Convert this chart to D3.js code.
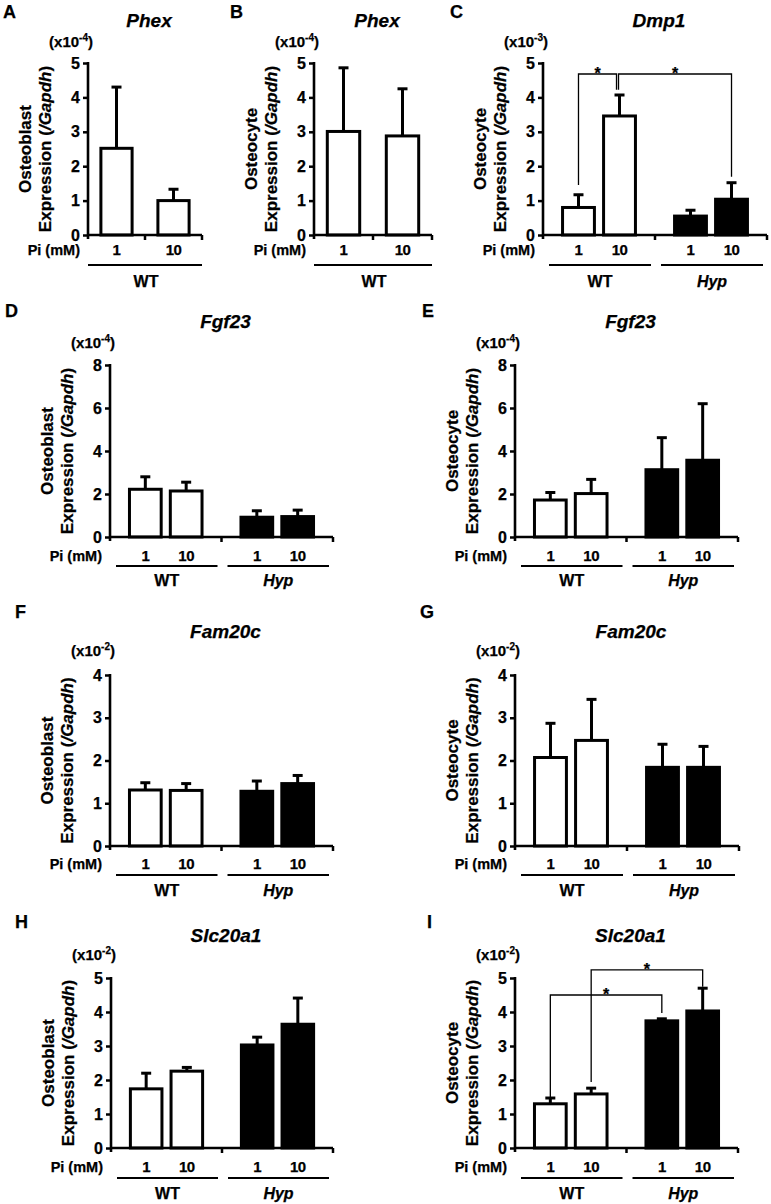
<!DOCTYPE html>
<html><head><meta charset="utf-8">
<script src="https://cdn.jsdelivr.net/npm/d3@7"></script>
<style>
body{margin:0;background:#fff}
svg text{font-family:"Liberation Sans",Arial,sans-serif;font-weight:bold;fill:#000;stroke:#000;stroke-width:0.25px}
</style>
</head><body>
<svg id="c" width="771" height="1204"></svg>
<script>
// ---------- data ----------
const conditions = ["1", "10"];
const genotypes = ["WT", "Hyp"];
const wtOnly = ["WT"];
const ticks5 = [0, 1, 2, 3, 4, 5];
const ticks8 = [0, 2, 4, 6, 8];
const ticks4 = [0, 1, 2, 3, 4];

const phexObMean = [2.52, 1.0];
const phexObUpper = [4.3, 1.33];
const phexOcMean = [3.01, 2.88];
const phexOcUpper = [4.86, 4.25];
const dmp1OcMean = [0.8, 3.46, 0.55, 1.04];
const dmp1OcUpper = [1.17, 4.07, 0.72, 1.52];
const fgf23ObMean = [2.22, 2.14, 0.92, 0.95];
const fgf23ObUpper = [2.8, 2.55, 1.22, 1.25];
const fgf23OcMean = [1.72, 2.02, 3.13, 3.57];
const fgf23OcUpper = [2.07, 2.68, 4.62, 6.2];
const fam20cObMean = [1.31, 1.3, 1.28, 1.46];
const fam20cObUpper = [1.48, 1.46, 1.52, 1.65];
const fam20cOcMean = [2.07, 2.47, 1.84, 1.84];
const fam20cOcUpper = [2.87, 3.43, 2.38, 2.33];
const slcObMean = [1.74, 2.26, 3.03, 3.64];
const slcObUpper = [2.2, 2.37, 3.26, 4.41];
const slcOcMean = [1.3, 1.59, 3.74, 4.03];
const slcOcUpper = [1.47, 1.76, 3.8, 4.7];
// brackets: [fromBar, toBar, fromValue, toValue, topValue]
const dmp1Brackets = [[0, 1, 1.45, 4.22, 4.68], [1, 3, 4.22, 1.69, 4.68]];
const slcOcBrackets = [[0, 2, 1.47, 3.97, 4.5], [1, 3, 1.94, 4.74, 5.24]];

// ---------- layout ----------
const rows = [
  {y0: 235, yTop: 63, letterY: 18, titleY: 27, expY: 47, piY: 255, lineY: 265, grpY: 287},
  {y0: 537, yTop: 365, letterY: 317, titleY: 328, expY: 348, piY: 561, lineY: 566, grpY: 586},
  {y0: 846, yTop: 675, letterY: 618, titleY: 638, expY: 656, piY: 869, lineY: 875, grpY: 896},
  {y0: 1148, yTop: 978, letterY: 928, titleY: 942, expY: 960, piY: 1172, lineY: 1178, grpY: 1199}
];

const panels = [
  {letter: "A", lx: 3, title: "Phex", cell: "Osteoblast", exp: "-4", groups: wtOnly, mean: phexObMean, upper: phexObUpper, ticks: ticks5, row: 0, xL: 88, xR: 202},
  {letter: "B", lx: 230, title: "Phex", cell: "Osteocyte", exp: "-4", groups: wtOnly, mean: phexOcMean, upper: phexOcUpper, ticks: ticks5, row: 0, xL: 314, xR: 432},
  {letter: "C", lx: 450, title: "Dmp1", cell: "Osteocyte", exp: "-3", groups: genotypes, mean: dmp1OcMean, upper: dmp1OcUpper, ticks: ticks5, row: 0, xL: 543, xR: 767, brackets: dmp1Brackets},
  {letter: "D", lx: 5, title: "Fgf23", cell: "Osteoblast", exp: "-4", groups: genotypes, mean: fgf23ObMean, upper: fgf23ObUpper, ticks: ticks8, row: 1, xL: 110, xR: 333},
  {letter: "E", lx: 422, title: "Fgf23", cell: "Osteocyte", exp: "-4", groups: genotypes, mean: fgf23OcMean, upper: fgf23OcUpper, ticks: ticks8, row: 1, xL: 515, xR: 738},
  {letter: "F", lx: 15, title: "Fam20c", cell: "Osteoblast", exp: "-2", groups: genotypes, mean: fam20cObMean, upper: fam20cObUpper, ticks: ticks4, row: 2, xL: 110, xR: 333},
  {letter: "G", lx: 420, title: "Fam20c", cell: "Osteocyte", exp: "-2", groups: genotypes, mean: fam20cOcMean, upper: fam20cOcUpper, ticks: ticks4, row: 2, xL: 515, xR: 739},
  {letter: "H", lx: 15, title: "Slc20a1", cell: "Osteoblast", exp: "-2", groups: genotypes, mean: slcObMean, upper: slcObUpper, ticks: ticks5, row: 3, xL: 111, xR: 333},
  {letter: "I", lx: 427, title: "Slc20a1", cell: "Osteocyte", exp: "-2", groups: genotypes, mean: slcOcMean, upper: slcOcUpper, ticks: ticks5, row: 3, xL: 515, xR: 738, brackets: slcOcBrackets}
];

const svg = d3.select("#c");
svg.append("rect").attr("width", 771).attr("height", 1204).attr("fill", "#fff");

panels.forEach(p => {
  const r = rows[p.row];
  const g = svg.append("g");
  const single = p.groups.length === 1;
  const ymax = p.ticks[p.ticks.length - 1];
  const y = d3.scaleLinear().domain([0, ymax]).range([r.y0, r.yTop]);
  const outer = d3.scaleBand().domain(p.groups).range([p.xL, p.xR]);
  const inner = d3.scaleBand().domain(conditions).range([0, outer.bandwidth()])
    .paddingInner(single ? 0.4 : 0.15).paddingOuter(single ? 0.2 : 0.44);

  const bars = p.mean.map((m, i) => {
    const grp = p.groups[Math.floor(i / 2)];
    const cond = conditions[i % 2];
    const x0 = outer(grp) + inner(cond);
    return {i, grp, cond, m, up: p.upper[i], x0, cx: x0 + inner.bandwidth() / 2, fill: grp === "Hyp" ? "#000" : "#fff"};
  });

  // panel letter
  g.append("text").attr("x", p.lx).attr("y", r.letterY).style("font-size", "18px").text(p.letter);
  // title
  g.append("text").attr("x", (p.xL + p.xR) / 2 + 4).attr("y", r.titleY).attr("text-anchor", "middle")
    .style("font-size", "19px").style("font-style", "italic").text(p.title);
  // exponent label
  const ex = g.append("text").attr("x", p.xL + 5).attr("y", r.expY).attr("text-anchor", "end").style("font-size", "15px");
  ex.append("tspan").text("(x10");
  ex.append("tspan").attr("dy", -6).style("font-size", "10px").text(p.exp);
  ex.append("tspan").attr("dy", 6).text(")");

  // y label
  const yc = (r.y0 + r.yTop) / 2;
  g.append("text").attr("transform", `translate(${p.xL - 57},${yc}) rotate(-90)`).attr("text-anchor", "middle")
    .style("font-size", "17px").text(p.cell);
  const l2 = g.append("text").attr("transform", `translate(${p.xL - 37},${yc}) rotate(-90)`).attr("text-anchor", "middle")
    .style("font-size", "17px");
  l2.append("tspan").text("Expression (");
  l2.append("tspan").style("font-style", "italic").text("/Gapdh");
  l2.append("tspan").text(")");

  // bars
  const bw = inner.bandwidth();
  g.selectAll("rect.bar").data(bars).join("rect")
    .attr("x", d => d.x0 + 1.5).attr("width", bw - 3)
    .attr("y", d => y(d.m)).attr("height", d => r.y0 - y(d.m))
    .attr("fill", d => d.fill).attr("stroke", "#000").attr("stroke-width", 3);
  // error bars
  g.selectAll("line.err").data(bars).join("line")
    .attr("x1", d => d.cx).attr("x2", d => d.cx).attr("y1", d => y(d.m)).attr("y2", d => y(d.up))
    .attr("stroke", "#000").attr("stroke-width", 3);
  g.selectAll("line.cap").data(bars).join("line")
    .attr("x1", d => d.cx - 5).attr("x2", d => d.cx + 5).attr("y1", d => y(d.up)).attr("y2", d => y(d.up))
    .attr("stroke", "#000").attr("stroke-width", 3);

  // y axis
  const ya = g.append("g").attr("transform", `translate(${p.xL},0)`)
    .call(d3.axisLeft(y).tickValues(p.ticks).tickSize(5).tickSizeOuter(0).tickPadding(3).tickFormat(d3.format("d")));
  ya.select(".domain").remove();
  ya.selectAll(".tick line").attr("stroke", "#000").attr("stroke-width", 2.5);
  ya.selectAll(".tick text").style("font-size", "16px").style("font-family", "'Liberation Sans',Arial,sans-serif").attr("fill", "#000");
  g.append("line").attr("x1", p.xL).attr("x2", p.xL).attr("y1", r.yTop - 1).attr("y2", r.y0 + 4)
    .attr("stroke", "#000").attr("stroke-width", 2.6);
  // x axis
  g.append("line").attr("x1", p.xL).attr("x2", p.xR).attr("y1", r.y0).attr("y2", r.y0)
    .attr("stroke", "#000").attr("stroke-width", 2.6);
  const xt = single ? [p.xL + outer.bandwidth() / 2, p.xR] : p.groups.map(gr => outer(gr) + outer.bandwidth());
  g.selectAll("line.xt").data(xt).join("line")
    .attr("x1", d => d).attr("x2", d => d).attr("y1", r.y0).attr("y2", r.y0 + 5)
    .attr("stroke", "#000").attr("stroke-width", 2.5);

  // category labels
  g.append("text").attr("x", p.xL - 8).attr("y", r.piY).attr("text-anchor", "end").style("font-size", "14.5px").text("Pi (mM)");
  g.selectAll("text.cat").data(bars).join("text")
    .attr("x", d => d.cx).attr("y", r.piY).attr("text-anchor", "middle").style("font-size", "15px")
    .style("letter-spacing", "-0.5px").text(d => d.cond);
  // group lines and labels
  p.groups.forEach(gr => {
    const a = outer(gr), b = a + outer.bandwidth();
    const x1 = single ? a : a + 6, x2 = single ? b : b - 4;
    g.append("line").attr("x1", x1).attr("x2", x2).attr("y1", r.lineY).attr("y2", r.lineY)
      .attr("stroke", "#000").attr("stroke-width", 2);
    g.append("text").attr("x", (a + b) / 2 + 1).attr("y", r.grpY).attr("text-anchor", "middle")
      .style("font-size", "16px").style("font-style", gr === "Hyp" ? "italic" : "normal").text(gr);
  });

  // significance brackets
  if (p.brackets) {
    p.brackets.forEach((bk, k) => {
      const [f, t, fv, tv, top] = bk;
      let xa = bars[f].cx, xb = bars[t].cx;
      p.brackets.forEach((o, j) => {
        if (j !== k && o[0] === t) xb -= 3;
        if (j !== k && o[1] === f) xa -= 1;
      });
      const yt = y(top);
      g.append("path").attr("d", `M${xa},${y(fv)}V${yt}H${xb}V${y(tv)}`)
        .attr("fill", "none").attr("stroke", "#000").attr("stroke-width", 1.3);
      g.append("text").attr("x", (xa + xb) / 2).attr("y", yt + 5).attr("text-anchor", "middle")
        .style("font-size", "16px").text("*");
    });
  }
});
</script>
</body></html>
